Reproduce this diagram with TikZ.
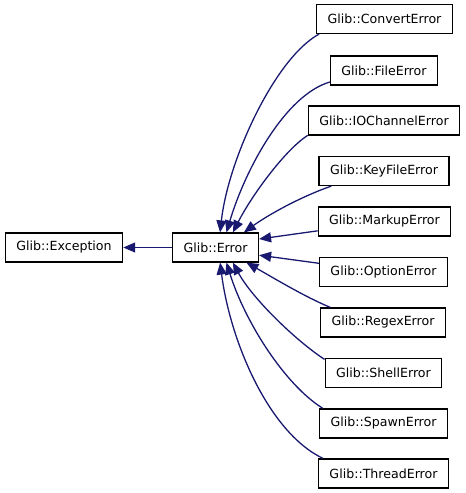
\documentclass[tikz,border=0pt]{standalone}
\usepackage{fontspec}
\setmainfont{DejaVu Sans}
\usetikzlibrary{arrows.meta}
\definecolor{edgeblue}{RGB}{25,25,112}
\begin{document}
\begin{tikzpicture}[x=1pt,y=-1pt]
  \tikzstyle{cls}=[draw=black,line width=1.2pt,fill=white,minimum height=29pt,inner xsep=11pt,inner ysep=0pt,font=\fontsize{12.6}{14}\selectfont]
  \tikzstyle{line} = [draw=edgeblue,line width=1.3pt,-{Triangle[length=12pt,width=10pt]}]
  \useasboundingbox (0,0) rectangle (466,493);
  \node[cls] (exc)    at (64,247.5)    {Glib::Exception};
  \node[cls] (err)    at (215.5,247.5) {Glib::Error};

  \node[cls] (conv)   at (384.5,19)    {Glib::ConvertError};
  \node[cls] (file)   at (384,70.5)    {Glib::FileError};
  \node[cls] (ioch)   at (384,120.5)   {Glib::IOChannelError};
  \node[cls] (keyf)   at (384,171)     {Glib::KeyFileError};
  \node[cls] (mark)   at (384.5,221.5) {Glib::MarkupError};
  \node[cls] (opt)    at (383.5,272)   {Glib::OptionError};
  \node[cls] (regex)  at (383,322.5)   {Glib::RegexError};
  \node[cls] (shell)  at (383.5,373)   {Glib::ShellError};
  \node[cls] (spawn)  at (383.5,423.5) {Glib::SpawnError};
  \node[cls] (thread) at (383.5,473.5) {Glib::ThreadError};
  % inheritance
  \path[line] (err) -- (exc);
  \path[line] (conv.193) .. controls (275,58) and (228,160) .. (err.73);
  \path[line] (file.192) .. controls (285,95) and (245,170) .. (err.54);
  \path[line] (ioch.191) .. controls (285,150) and (252,195) .. (err.41);
  \path[line] (keyf.196) .. controls (300,197) and (268,215) .. (err.28);
  \path[line] (mark) -- (err.11);
  \path[line] (opt) -- (err.-10);
  \path[line] (regex.164) .. controls (305,297) and (272,277) .. (err.-26);
  \path[line] (shell.167) .. controls (295,340) and (252,298) .. (err.-41);
  \path[line] (spawn.166) .. controls (285,385) and (245,322) .. (err.-54);
  \path[line] (thread.166) .. controls (268,432) and (230,340) .. (err.-73);
\end{tikzpicture}
\end{document}
